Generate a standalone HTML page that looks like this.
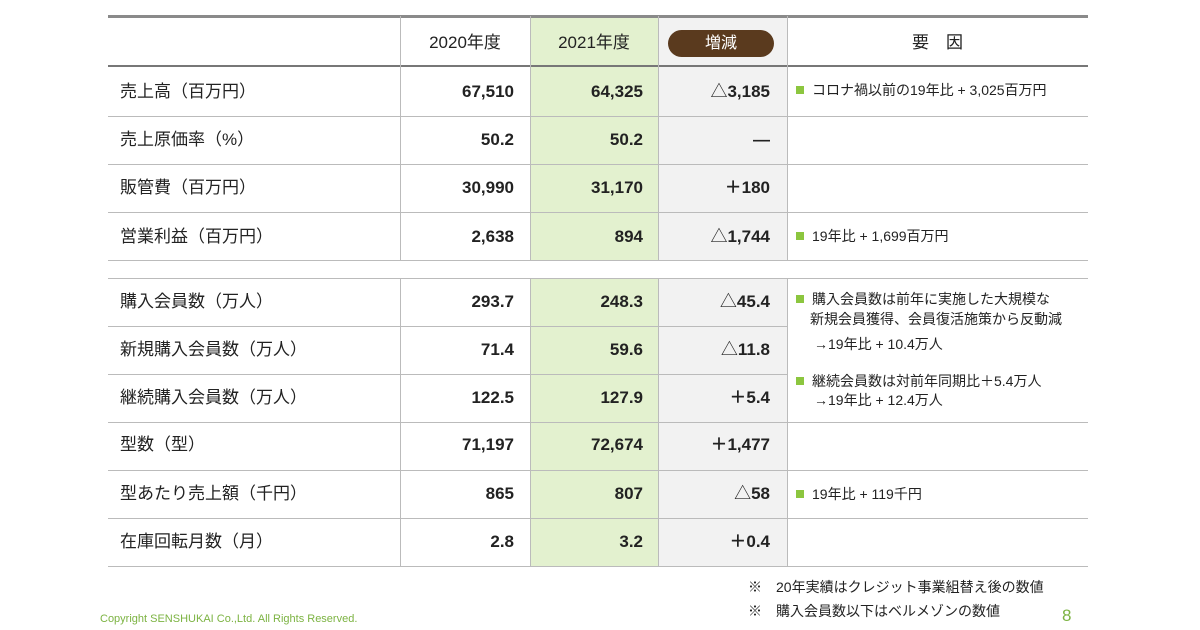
<!DOCTYPE html>
<html><head><meta charset="utf-8"><style>
body{margin:0;width:1200px;height:630px;background:#fff;position:relative;overflow:hidden;font-family:"Liberation Sans","Noto Sans CJK JP",sans-serif;color:#222}
.a{position:absolute}
.bg{position:absolute}
.h{position:absolute;height:1px;background:#bbb}
.v{position:absolute;width:1px;background:#bbb}
.t{position:absolute;height:24px;line-height:24px;font-size:17px;white-space:nowrap}
.n{font-weight:bold;text-align:right}
.f{position:absolute;font-size:14px;line-height:19px;white-space:nowrap;color:#222}
.sq{display:inline-block;width:8px;height:8px;background:#8cc63f;margin-right:8px;vertical-align:1px}
</style></head><body>
<div class="bg" style="left:530px;top:16px;width:128px;height:244px;background:#e3f1cf"></div>
<div class="bg" style="left:530px;top:278px;width:128px;height:288px;background:#e3f1cf"></div>
<div class="bg" style="left:658px;top:16px;width:129px;height:244px;background:#f2f2f2"></div>
<div class="bg" style="left:658px;top:278px;width:129px;height:288px;background:#f2f2f2"></div>
<div class="h" style="left:108px;top:15px;width:980px;height:3px;background:#8a8a8a"></div>
<div class="h" style="left:108px;top:65px;width:980px;height:2px;background:#777"></div>
<div class="h" style="left:108px;top:116px;width:980px"></div>
<div class="h" style="left:108px;top:164px;width:980px"></div>
<div class="h" style="left:108px;top:212px;width:980px"></div>
<div class="h" style="left:108px;top:260px;width:980px"></div>
<div class="h" style="left:108px;top:278px;width:980px"></div>
<div class="h" style="left:108px;top:326px;width:679px"></div>
<div class="h" style="left:108px;top:374px;width:679px"></div>
<div class="h" style="left:108px;top:422px;width:980px"></div>
<div class="h" style="left:108px;top:470px;width:980px"></div>
<div class="h" style="left:108px;top:518px;width:980px"></div>
<div class="h" style="left:108px;top:566px;width:980px"></div>
<div class="v" style="left:400px;top:16px;height:244px"></div>
<div class="v" style="left:400px;top:278px;height:288px"></div>
<div class="v" style="left:530px;top:16px;height:244px"></div>
<div class="v" style="left:530px;top:278px;height:288px"></div>
<div class="v" style="left:658px;top:16px;height:244px"></div>
<div class="v" style="left:658px;top:278px;height:288px"></div>
<div class="v" style="left:787px;top:16px;height:244px"></div>
<div class="v" style="left:787px;top:278px;height:288px"></div>
<div class="t" style="left:400px;width:130px;top:31px;text-align:center">2020年度</div>
<div class="t" style="left:530px;width:128px;top:31px;text-align:center">2021年度</div>
<div class="a" style="left:668px;top:30px;width:106px;height:27px;border-radius:14px;background:#5a3a1e;color:#fff;font-size:16px;line-height:27px;text-align:center">増減</div>
<div class="t" style="left:787px;width:301px;top:31px;text-align:center">要　因</div>
<div class="t" style="left:120px;top:80px">売上高（百万円）</div>
<div class="t" style="left:120px;top:128px">売上原価率（%）</div>
<div class="t" style="left:120px;top:176px">販管費（百万円）</div>
<div class="t" style="left:120px;top:225px">営業利益（百万円）</div>
<div class="t" style="left:120px;top:290px">購入会員数（万人）</div>
<div class="t" style="left:120px;top:338px">新規購入会員数（万人）</div>
<div class="t" style="left:120px;top:386px">継続購入会員数（万人）</div>
<div class="t" style="left:120px;top:433px">型数（型）</div>
<div class="t" style="left:120px;top:482px">型あたり売上額（千円）</div>
<div class="t" style="left:120px;top:530px">在庫回転月数（月）</div>
<div class="t n" style="left:400px;width:114px;top:80px">67,510</div>
<div class="t n" style="left:400px;width:114px;top:128px">50.2</div>
<div class="t n" style="left:400px;width:114px;top:176px">30,990</div>
<div class="t n" style="left:400px;width:114px;top:225px">2,638</div>
<div class="t n" style="left:400px;width:114px;top:290px">293.7</div>
<div class="t n" style="left:400px;width:114px;top:338px">71.4</div>
<div class="t n" style="left:400px;width:114px;top:386px">122.5</div>
<div class="t n" style="left:400px;width:114px;top:433px">71,197</div>
<div class="t n" style="left:400px;width:114px;top:482px">865</div>
<div class="t n" style="left:400px;width:114px;top:530px">2.8</div>
<div class="t n" style="left:530px;width:113px;top:80px">64,325</div>
<div class="t n" style="left:530px;width:113px;top:128px">50.2</div>
<div class="t n" style="left:530px;width:113px;top:176px">31,170</div>
<div class="t n" style="left:530px;width:113px;top:225px">894</div>
<div class="t n" style="left:530px;width:113px;top:290px">248.3</div>
<div class="t n" style="left:530px;width:113px;top:338px">59.6</div>
<div class="t n" style="left:530px;width:113px;top:386px">127.9</div>
<div class="t n" style="left:530px;width:113px;top:433px">72,674</div>
<div class="t n" style="left:530px;width:113px;top:482px">807</div>
<div class="t n" style="left:530px;width:113px;top:530px">3.2</div>
<div class="t n" style="left:658px;width:112px;top:80px"><span style="font-weight:normal">△</span>3,185</div>
<div class="t n" style="left:658px;width:112px;top:128px">—</div>
<div class="t n" style="left:658px;width:112px;top:176px">＋180</div>
<div class="t n" style="left:658px;width:112px;top:225px"><span style="font-weight:normal">△</span>1,744</div>
<div class="t n" style="left:658px;width:112px;top:290px"><span style="font-weight:normal">△</span>45.4</div>
<div class="t n" style="left:658px;width:112px;top:338px"><span style="font-weight:normal">△</span>11.8</div>
<div class="t n" style="left:658px;width:112px;top:386px">＋5.4</div>
<div class="t n" style="left:658px;width:112px;top:433px">＋1,477</div>
<div class="t n" style="left:658px;width:112px;top:482px"><span style="font-weight:normal">△</span>58</div>
<div class="t n" style="left:658px;width:112px;top:530px">＋0.4</div>
<div class="f" style="left:796px;top:81px"><span class="sq"></span>コロナ禍以前の19年比 + 3,025百万円</div>
<div class="f" style="left:796px;top:227px"><span class="sq"></span>19年比 + 1,699百万円</div>
<div class="f" style="left:796px;top:290px"><span class="sq"></span>購入会員数は前年に実施した大規模な</div>
<div class="f" style="left:810px;top:310px">新規会員獲得、会員復活施策から反動減</div>
<div class="f" style="left:814px;top:335px">→19年比 + 10.4万人</div>
<div class="f" style="left:796px;top:372px"><span class="sq"></span>継続会員数は対前年同期比＋5.4万人</div>
<div class="f" style="left:814px;top:391px">→19年比 + 12.4万人</div>
<div class="f" style="left:796px;top:485px"><span class="sq"></span>19年比 + 119千円</div>
<div class="f" style="left:748px;top:578px">※　20年実績はクレジット事業組替え後の数値</div>
<div class="f" style="left:748px;top:602px">※　購入会員数以下はベルメゾンの数値</div>
<div class="a" style="left:100px;top:613px;font-size:11px;color:#7cb342;white-space:nowrap">Copyright SENSHUKAI Co.,Ltd. All Rights Reserved.</div>
<div class="a" style="left:1062px;top:606px;font-size:17px;color:#7cb342">8</div>
</body></html>
